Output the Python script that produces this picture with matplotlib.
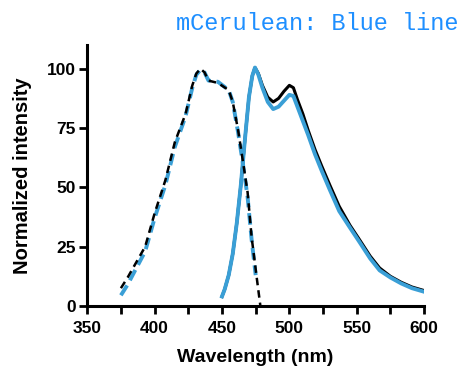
import numpy as np
import matplotlib.pyplot as plt

# excitation spectra (dashed)
ex_nm_black = [375, 380, 386, 393, 400, 408, 415, 423, 428, 431, 434, 437, 440, 447, 455, 458, 462, 465, 469, 472, 476, 478.5]
ex_val_black = [7.5, 12, 18, 25, 39, 53, 69, 81, 93, 98, 100, 98.5, 95, 94, 91, 86, 74, 63, 48, 29, 11, 0]
ex_nm_blue = [375, 380, 386, 393, 400, 408, 415, 423, 428, 431, 434, 437, 440, 447, 455, 458, 462, 465, 469, 472, 475]
ex_val_blue = [4.5, 9, 15.5, 23, 37, 51, 67, 80, 92, 97.5, 99.5, 98.5, 95, 94.5, 91, 86, 73, 62, 46, 28, 13]

# emission spectra (solid)
em_nm = [450, 452, 455, 458, 461, 464, 467, 470, 472.5, 474.5, 477, 480, 484, 488, 492, 496, 500, 503, 506, 510, 514, 519, 524, 530, 537, 545, 552, 560, 567, 575, 583, 591, 600]
em_val_black = [4, 7, 13, 22, 35, 51, 70, 88, 97, 100.5, 98, 93, 88, 86, 87.5, 90.5, 93, 92, 87, 81, 74, 66, 59, 51, 42, 34, 28, 21, 16, 12.5, 10, 8, 6.5]
em_val_blue = [4, 7, 13, 22, 35, 51, 70, 88, 97, 100.5, 97.5, 92, 86, 83, 84, 86.5, 89, 88.5, 84, 78, 72, 64, 57, 49, 40, 33, 27, 20, 15, 12, 9.5, 7.5, 6]

blue = "#3a9fd6"

fig = plt.figure(figsize=(4.59, 3.66), dpi=100)
ax = fig.add_axes([0.19, 0.164, 0.734, 0.713])

ax.plot(em_nm, em_val_black, color="black", lw=2.2)
ax.plot(em_nm, em_val_blue, color=blue, lw=2.8)
ax.plot(ex_nm_blue, ex_val_blue, color=blue, lw=2.8, dashes=(3, 1.5))
ax.plot(ex_nm_black, ex_val_black, color="black", lw=1.8, dashes=(3, 2))

ax.set_xlim(350, 600)
ax.set_ylim(0, 110)
ax.set_xticks(np.arange(350, 601, 50))
ax.set_xticks(np.arange(375, 600, 50), minor=True)
ax.set_yticks([0, 25, 50, 75, 100])

for s in ["top", "right"]:
    ax.spines[s].set_visible(False)
for s in ["left", "bottom"]:
    ax.spines[s].set_linewidth(2.2)
ax.tick_params(which="both", width=2, length=6, labelsize=12.5, pad=2)
ax.tick_params(axis="x", pad=5)
for lab in ax.get_xticklabels() + ax.get_yticklabels():
    lab.set_fontfamily("Liberation Sans")
    lab.set_fontweight("bold")

ax.set_xlabel("Wavelength (nm)", fontfamily="Liberation Sans", fontweight="bold", fontsize=14, labelpad=9)
ax.set_ylabel("Normalized intensity", fontfamily="Liberation Sans", fontweight="bold", fontsize=14.5, labelpad=11)

fig.text(0.998, 0.905, "mCerulean: Blue line", color="#1e8fff", fontsize=17,
         fontfamily="Liberation Mono", ha="right", va="bottom")

fig.savefig("out.png", dpi=100)
